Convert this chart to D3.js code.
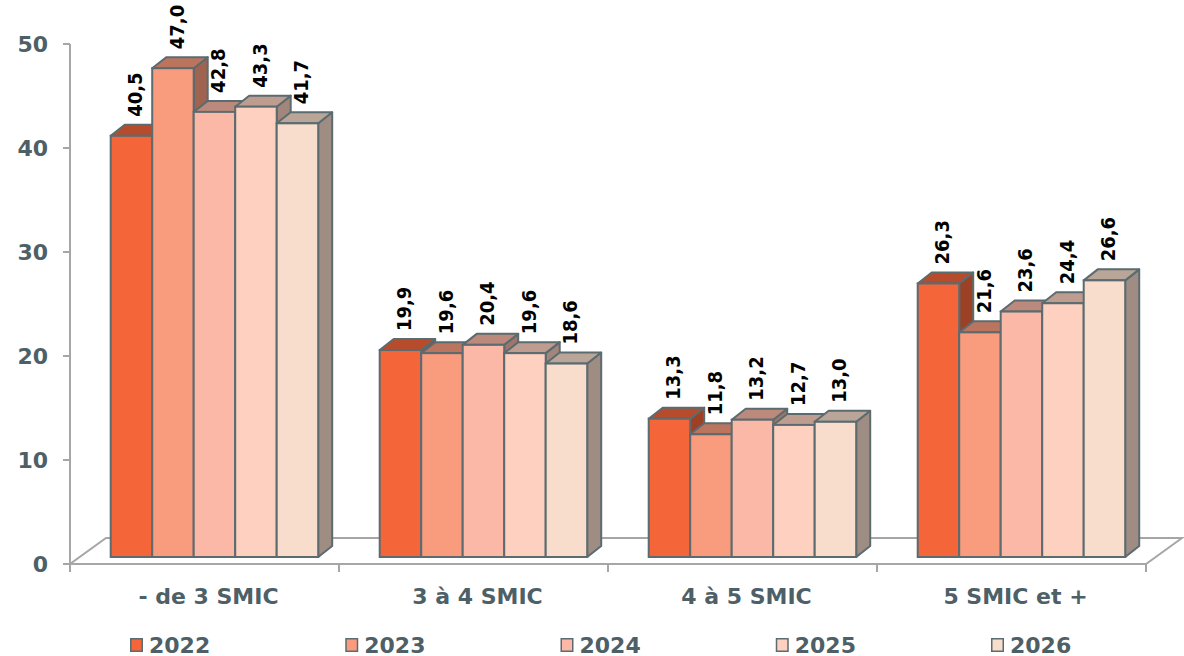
<!DOCTYPE html>
<html>
<head>
<meta charset="utf-8">
<script src="https://cdn.jsdelivr.net/npm/d3@7"></script>
<style>
  html, body { margin: 0; padding: 0; background: #fff; }
  svg { display: block; }
</style>
</head>
<body>
<svg id="chart" width="1184" height="656"></svg>
<script>
// Répartition par tranche de revenu (en SMIC), par année
const categories = ["- de 3 SMIC", "3 à 4 SMIC", "4 à 5 SMIC", "5 SMIC et +"];
const years = ["2022", "2023", "2024", "2025", "2026"];
const values2022 = [40.5, 19.9, 13.3, 26.3];
const values2023 = [47.0, 19.6, 11.8, 21.6];
const values2024 = [42.8, 20.4, 13.2, 23.6];
const values2025 = [43.3, 19.6, 12.7, 24.4];
const values2026 = [41.7, 18.6, 13.0, 26.6];
const yTicks = [0, 10, 20, 30, 40, 50];
const colors = ["#f4653a", "#f99b7d", "#fbb8a6", "#fdd0c0", "#f8ddcc"];

const series = [values2022, values2023, values2024, values2025, values2026];

const svg = d3.select("#chart");

const textColor = "#4d5f67";
const outline = "#5b6b70";
const axisGrey = "#a6a6a6";
const fontFam = "'DejaVu Sans', Verdana, sans-serif";
const condFam = "'DejaVu Sans Condensed', 'DejaVu Sans', sans-serif";

// 3D projection offsets
const floorDX = 36, floorDY = -26;   // floor depth
const barDX = 14, barDY = -11;       // bar depth
const barShiftX = 10, barShiftY = -7; // bar front plane set back from floor front

// Scales
const x0 = d3.scaleBand().domain(categories).range([70, 1146]).paddingInner(0).paddingOuter(0);
const x1 = d3.scaleBand().domain(years).range([30.7, 238.2]).padding(0);
const yAxisScale = d3.scaleLinear().domain([0, 50]).range([564, 44]);
const yBar = v => yAxisScale(v) + barShiftY;

function shade(c, k) {
  const r = d3.rgb(c);
  return d3.rgb(r.r * k, r.g * k, r.b * k).formatHex();
}

// Floor
const floorLeft = x0.range()[0], floorRight = x0.range()[1], floorY = yAxisScale(0);
const floor = svg.append("g");
floor.append("path")
  .attr("d", `M${floorLeft},${floorY} L${floorRight},${floorY} L${floorRight + floorDX},${floorY + floorDY} L${floorLeft + floorDX},${floorY + floorDY} Z`)
  .attr("fill", "#fff")
  .attr("stroke", axisGrey)
  .attr("stroke-width", 2);

// Category ticks on the floor front edge
const catEdges = categories.map(c => x0(c)).concat([floorRight]);
floor.selectAll("line.cat")
  .data(catEdges)
  .join("line")
  .attr("x1", d => d).attr("x2", d => d)
  .attr("y1", floorY).attr("y2", floorY + 8)
  .attr("stroke", axisGrey).attr("stroke-width", 2);

// Value axis
const axis = svg.append("g");
axis.append("line")
  .attr("x1", 70).attr("x2", 70)
  .attr("y1", yAxisScale(50)).attr("y2", yAxisScale(0))
  .attr("stroke", axisGrey).attr("stroke-width", 2);
axis.selectAll("line.tick")
  .data(yTicks)
  .join("line")
  .attr("x1", 63).attr("x2", 70)
  .attr("y1", d => yAxisScale(d)).attr("y2", d => yAxisScale(d))
  .attr("stroke", axisGrey).attr("stroke-width", 2);
axis.selectAll("text")
  .data(yTicks)
  .join("text")
  .attr("x", 48)
  .attr("y", d => yAxisScale(d))
  .attr("text-anchor", "end")
  .attr("dominant-baseline", "central")
  .attr("font-family", fontFam)
  .attr("font-weight", "bold")
  .attr("font-size", 22)
  .attr("fill", textColor)
  .text(d => d);

// Bars (drawn left to right so neighbours hide hidden side faces)
const bars = svg.append("g");
const fmt = v => d3.format(".1f")(v).replace(".", ",");

categories.forEach((cat, ci) => {
  years.forEach((yr, si) => {
    const v = series[si][ci];
    const xl = x0(cat) + x1(yr) + barShiftX;
    const w = x1.bandwidth();
    const yt = yBar(v), yb = yBar(0);
    const g = bars.append("g");
    // side face
    g.append("path")
      .attr("d", `M${xl + w},${yb} L${xl + w},${yt} L${xl + w + barDX},${yt + barDY} L${xl + w + barDX},${yb + barDY} Z`)
      .attr("fill", shade(colors[si], 0.64))
      .attr("stroke", outline).attr("stroke-width", 2).attr("stroke-linejoin", "round");
    // top face
    g.append("path")
      .attr("d", `M${xl},${yt} L${xl + w},${yt} L${xl + w + barDX},${yt + barDY} L${xl + barDX},${yt + barDY} Z`)
      .attr("fill", shade(colors[si], 0.75))
      .attr("stroke", outline).attr("stroke-width", 2).attr("stroke-linejoin", "round");
    // front face
    g.append("rect")
      .attr("x", xl).attr("y", yt)
      .attr("width", w).attr("height", yb - yt)
      .attr("fill", colors[si])
      .attr("stroke", outline).attr("stroke-width", 2);
  });
});

// Value labels
const labels = svg.append("g");
categories.forEach((cat, ci) => {
  years.forEach((yr, si) => {
    const v = series[si][ci];
    const cx = x0(cat) + x1(yr) + barShiftX + x1.bandwidth() / 2 + 4;
    const ty = yBar(v) - 19;
    labels.append("text")
      .attr("transform", `translate(${cx},${ty}) rotate(-90)`)
      .attr("text-anchor", "start")
      .attr("dominant-baseline", "central")
      .attr("font-family", condFam)
      .attr("font-stretch", "condensed")
      .attr("font-weight", "bold")
      .attr("font-size", 20)
      .attr("fill", "#000")
      .text(fmt(v));
  });
});

// Category labels
svg.append("g").selectAll("text")
  .data(categories)
  .join("text")
  .attr("x", d => x0(d) + x0.bandwidth() / 2 + 4)
  .attr("y", 596)
  .attr("text-anchor", "middle")
  .attr("dominant-baseline", "central")
  .attr("font-family", fontFam)
  .attr("font-weight", "bold")
  .attr("font-size", 22)
  .attr("fill", textColor)
  .text(d => d);

// Legend
const legX = d3.scalePoint().domain(years).range([130, 991]);
const legend = svg.append("g");
years.forEach((yr, si) => {
  const lx = legX(yr);
  legend.append("rect")
    .attr("x", lx + 0.75).attr("y", 638.75)
    .attr("width", 11.5).attr("height", 12.5)
    .attr("fill", colors[si])
    .attr("stroke", outline).attr("stroke-width", 1.5);
  legend.append("text")
    .attr("x", lx + 19)
    .attr("y", 645)
    .attr("dominant-baseline", "central")
    .attr("font-family", fontFam)
    .attr("font-weight", "bold")
    .attr("font-size", 22)
    .attr("fill", textColor)
    .text(yr);
});
</script>
</body>
</html>
